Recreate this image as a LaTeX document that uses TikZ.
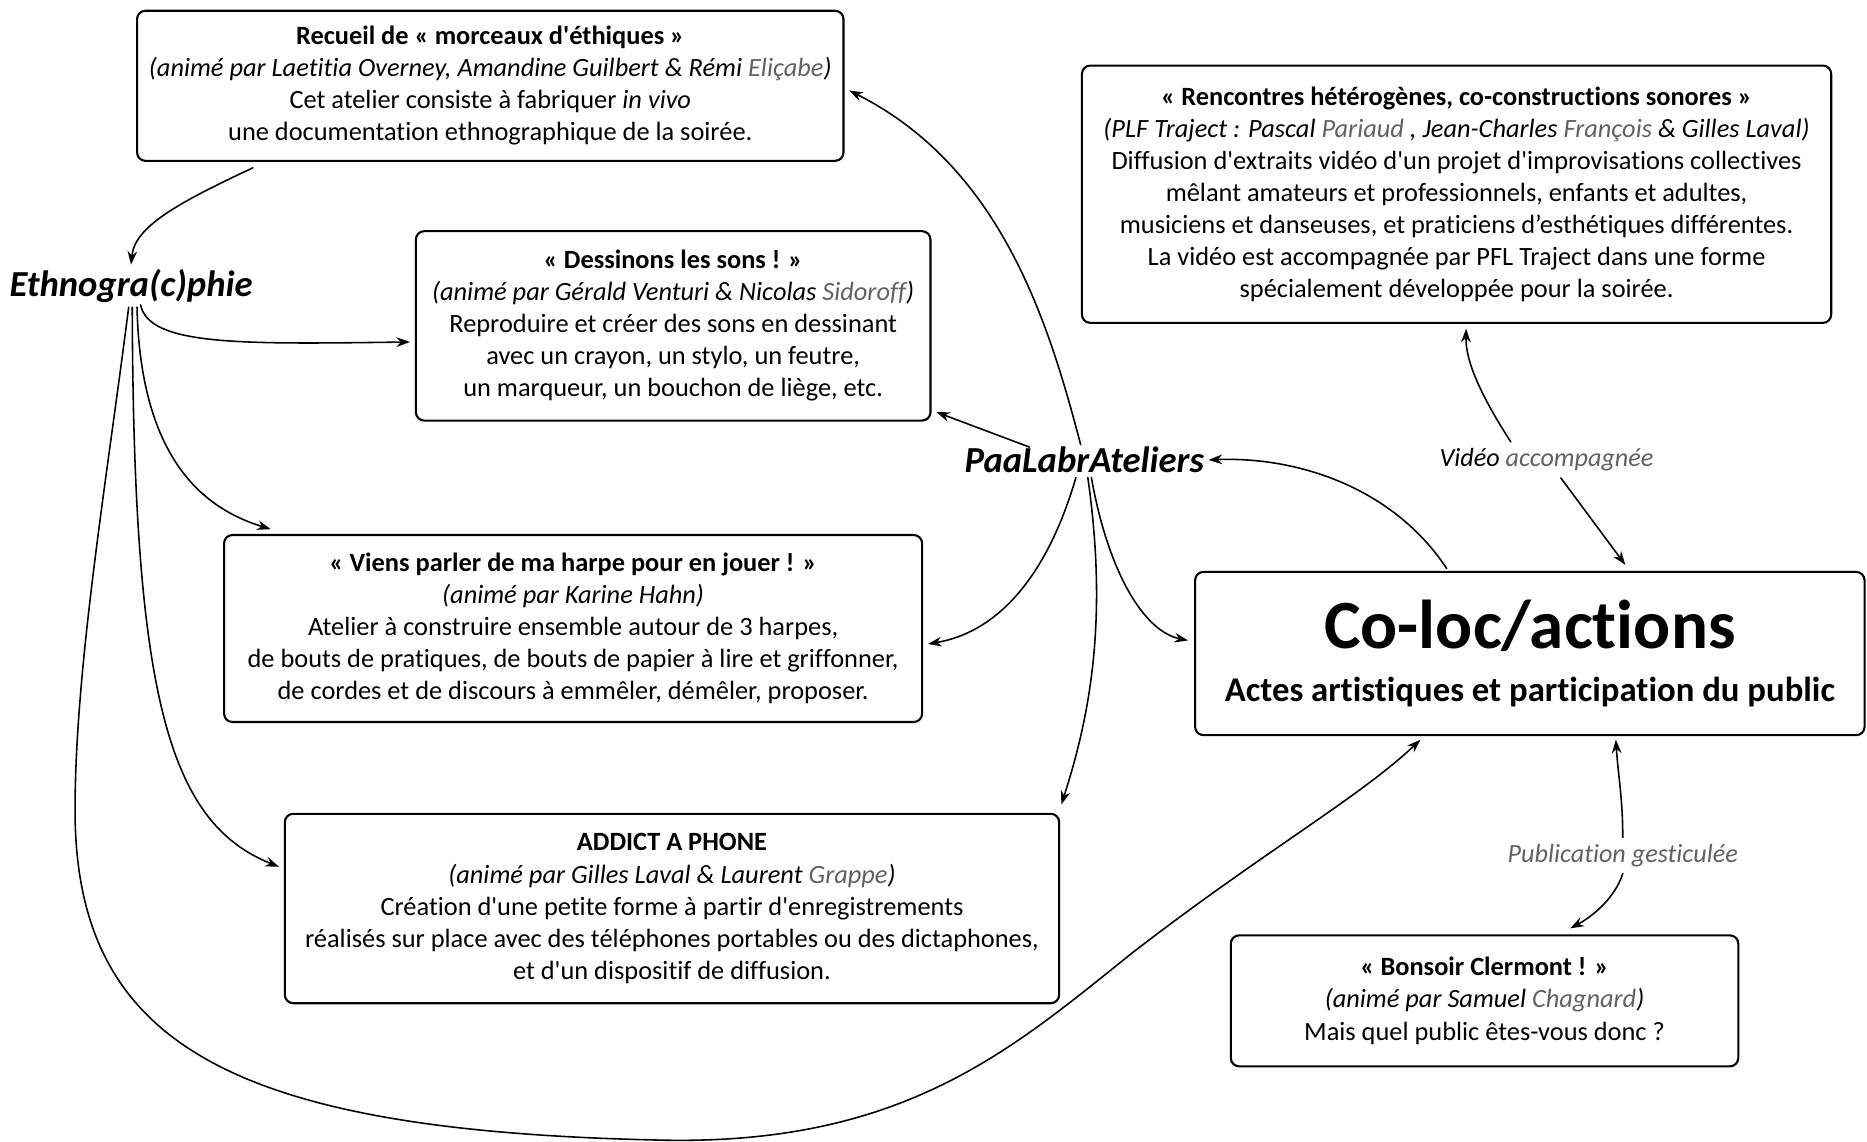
\documentclass[tikz,border=0pt]{standalone}
\usepackage{fontspec}
\setmainfont{Carlito}[Ligatures={TeXOff,CommonOff}]
\usetikzlibrary{arrows.meta,calc}
\definecolor{gris}{gray}{0.38}
\begin{document}
\begin{tikzpicture}[x=0.02cm, y=-0.02cm, line join=round, line cap=round, >={Stealth[length=6.5pt,width=4.6pt]},
	box/.style={draw, line width=1pt, rounded corners=4pt, align=center, inner sep=0pt, font=\fontsize{12.6}{15.3}\selectfont},
	fleche/.style={->, line width=0.75pt},
	titre/.style={font=\fontsize{17.5}{20}\selectfont\bfseries\itshape, inner sep=2pt},
	etiq/.style={font=\fontsize{12.5}{15}\selectfont\itshape, fill=white, inner sep=3pt}]
	\useasboundingbox (0,0) rectangle (1567,958);
	\node[box, minimum width=11.86cm, minimum height=2.52cm] (recueil) at (411.5,72)
	{\textbf{Recueil de « morceaux d'éthiques »}\\
		\textit{(animé par Laetitia Overney, Amandine Guilbert \& Rémi \textcolor{gris}{Eliçabe})}\\
		Cet atelier consiste à fabriquer \textit{in vivo}\\
		une documentation ethnographique de la soirée.};
	\node[box, minimum width=8.64cm, minimum height=3.18cm] (dessinons) at (565,273.5)
	{\textbf{« Dessinons les sons ! »}\\
		\textit{(animé par Gérald Venturi \& Nicolas \textcolor{gris}{Sidoroff})}\\
		Reproduire et créer des sons en dessinant\\
		avec un crayon, un stylo, un feutre,\\
		un marqueur, un bouchon de liège, etc.};
	\node[box, minimum width=11.72cm, minimum height=3.14cm] (viens) at (481,527.5)
	{\textbf{« Viens parler de ma harpe pour en jouer ! »}\\
		\textit{(animé par Karine Hahn)}\\
		Atelier à construire ensemble autour de 3 harpes,\\
		de bouts de pratiques, de bouts de papier à lire et griffonner,\\
		de cordes et de discours à emmêler, démêler, proposer.};
	\node[box, minimum width=13cm, minimum height=3.18cm] (addict) at (564,762.5)
	{\textbf{ADDICT A PHONE}\\
		\textit{(animé par Gilles Laval \& Laurent \textcolor{gris}{Grappe})}\\
		Création d'une petite forme à partir d'enregistrements\\
		réalisés sur place avec des téléphones portables ou des dictaphones,\\
		et d'un dispositif de diffusion.};
	\node[box, minimum width=12.58cm, minimum height=4.32cm] (renc) at (1222.5,163)
	{\textbf{« Rencontres hétérogènes, co-constructions sonores »}\\
		\textit{(PLF Traject : Pascal \textcolor{gris}{Pariaud} , Jean-Charles \textcolor{gris}{François} \& Gilles Laval)}\\
		Diffusion d'extraits vidéo d'un projet d'improvisations collectives\\
		mêlant amateurs et professionnels, enfants et adultes,\\
		musiciens et danseuses, et praticiens d’esthétiques différentes.\\
		La vidéo est accompagnée par PFL Traject dans une forme\\
		spécialement développée pour la soirée.};
	\node[box, minimum width=11.24cm, minimum height=2.74cm, font=\bfseries] (coloc) at (1284,548.5)
	{\fontsize{33}{36}\selectfont Co-loc/actions\\[11pt]
		\fontsize{16.6}{18}\selectfont Actes artistiques et participation du public};
	\node[box, minimum width=8.52cm, minimum height=2.2cm] (bonsoir) at (1246,840)
	{\textbf{« Bonsoir Clermont ! »}\\
		\textit{(animé par Samuel \textcolor{gris}{Chagnard})}\\
		Mais quel public êtes-vous donc ?};
	\node[titre] (ethno) at (110,240) {Ethnogra(c)phie};
	\node[titre] (paa) at (910,386) {PaaLabrAteliers};
	\node[etiq] (video) at (1298,386) {Vidéo \textcolor{gris}{accompagnée}};
	\node[etiq, text=gris] (publi) at (1362,718) {Publication gesticulée};
	\draw[fleche] ($(recueil.south west)+(98,5)$) .. controls (150,170) and (113,190) .. (ethno.north);
	\draw[fleche] ($(ethno.south)+(8,-2)$) .. controls (125,290) and (200,289) .. ($(dessinons.west)+(-4,13.5)$);
	\draw[fleche] ($(ethno.south)+(5,0)$) .. controls (118,390) and (175,428) .. ($(viens.north west)+(40,-4)$);
	\draw[fleche] ($(ethno.south)+(1,0)$) .. controls (112,580) and (140,690) .. ($(addict.west)+(-4,-35)$);
	\draw[fleche] ($(ethno.south)+(-2,0)$) .. controls (90,400) and (63,560) .. (63,680)
		.. controls (63,880) and (200,950) .. (560,957)
		.. controls (760,960) and (850,880) .. (950,800)
		.. controls (1060,715) and (1140,670) .. ($(coloc.south west)+(190,3)$);
	\draw[fleche] ($(paa.north)+(-3,2)$) .. controls (880,270) and (840,140) .. ($(recueil.east)+(4,4)$);
	\draw[fleche] ($(paa.north)+(-46,4)$) -- ($(dessinons.south east)+(4,-8)$);
	\draw[fleche] ($(paa.south)+(-7,0)$) .. controls (880,480) and (840,530) .. ($(viens.east)+(4,13)$);
	\draw[fleche] ($(paa.south)+(3,0)$) .. controls (930,520) and (915,600) .. ($(addict.north east)+(1,-7)$);
	\draw[fleche] ($(paa.south)+(6,0)$) .. controls (930,480) and (960,530) .. ($(coloc.west)+(-5,-11)$);
	\draw[fleche] ($(coloc.north west)+(212,-2)$) .. controls (1170,410) and (1090,383) .. (paa.east);
	\draw[fleche] ($(video.north)+(-30,0)$) .. controls (1245,335) and (1230,305) .. ($(renc.south)+(8,4)$);
	\draw[fleche] ($(video.south)+(12,0)$) -- ($(coloc.north west)+(362,-5)$);
	\draw[fleche] (publi.north) .. controls (1362,670) and (1358,650) .. ($(coloc.south west)+(354,3)$);
	\draw[fleche] (publi.south) .. controls (1355,755) and (1335,770) .. ($(bonsoir.north)+(72,-5)$);
\end{tikzpicture}
\end{document}
